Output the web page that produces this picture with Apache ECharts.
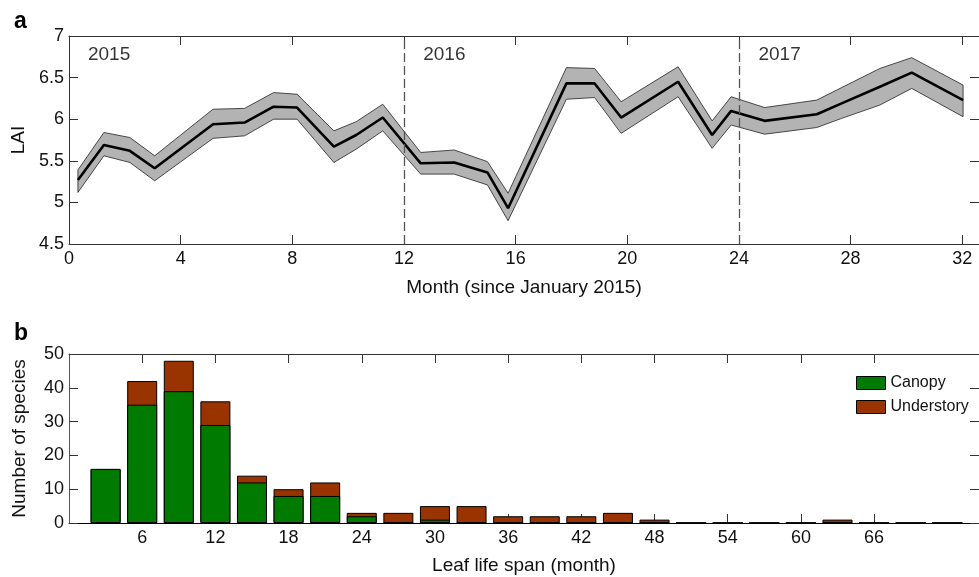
<!DOCTYPE html>
<html>
<head>
<meta charset="utf-8">
<script src="https://cdn.jsdelivr.net/npm/echarts@6/dist/echarts.min.js"></script>
<style>html,body{margin:0;padding:0;background:#fff}#c{width:979px;height:577px}</style>
</head>
<body>
<div id="c"></div>
<script>
// ---- Panel a: LAI time series ----
var months = [0.32, 1.25, 2.18, 3.07, 5.16, 6.29, 7.33, 8.17, 9.49, 10.29, 11.24, 12.6, 13.8, 14.99, 15.73, 17.82, 18.83, 19.78, 21.82, 23.04, 23.72, 24.92, 26.79, 27.68, 29.05, 30.19, 32.03];
var lai    = [5.27, 5.69, 5.62, 5.41, 5.94, 5.96, 6.15, 6.14, 5.67, 5.81, 6.02, 5.47, 5.48, 5.36, 4.93, 6.43, 6.43, 6.02, 6.45, 5.81, 6.10, 5.98, 6.06, 6.19, 6.39, 6.56, 6.23];
var laiUpper = [5.39, 5.84, 5.78, 5.56, 6.12, 6.13, 6.32, 6.30, 5.86, 5.97, 6.18, 5.60, 5.63, 5.49, 5.11, 6.62, 6.61, 6.21, 6.63, 5.98, 6.27, 6.14, 6.23, 6.38, 6.61, 6.74, 6.41];
var laiLower = [5.12, 5.56, 5.48, 5.26, 5.77, 5.80, 6.00, 6.00, 5.48, 5.64, 5.86, 5.34, 5.34, 5.21, 4.78, 6.24, 6.26, 5.83, 6.27, 5.65, 5.93, 5.82, 5.90, 6.01, 6.17, 6.37, 6.03];
var monthTicks = [0, 4, 8, 12, 16, 20, 24, 28, 32];
var yearBreaks = [12, 24];
var yearLabels = ['2015', '2016', '2017'];
var yearLabelPos = [[0.68, 6.775], [12.69, 6.775], [24.7, 6.775]];

// ---- Panel b: leaf life span histogram ----
var spanBins   = [3, 6, 9, 12, 15, 18, 21, 24, 27, 30, 33, 36, 39, 42, 45, 48, 51, 54, 57, 60, 63, 66, 69, 72];
var canopy     = [16, 35, 39, 29, 12, 8, 8, 2, 0, 1, 0, 0, 0, 0, 0, 0, 0, 0, 0, 0, 0, 0, 0, 0];
var understory = [0, 7, 9, 7, 2, 2, 4, 1, 3, 4, 5, 2, 2, 2, 3, 1, 0, 0, 0, 0, 1, 0, 0, 0];
var spanTicks  = [6, 12, 18, 24, 30, 36, 42, 48, 54, 60, 66];

var FONT = 'Liberation Sans, Arial, Helvetica, sans-serif';
var AX = '#333';
var TICKFS = 18, TITLEFS = 19;
var chart = echarts.init(document.getElementById('c'));

function xAx(grid, pos, min, max, ticks, labels, name, nameGap, lineColor) {
  return {
    type: 'value', gridIndex: grid, position: pos, min: min, max: max,
    splitLine: {show: false},
    axisLine: {show: true, onZero: false, lineStyle: {color: lineColor || AX, width: 1}},
    axisTick: {show: true, inside: true, length: 9, customValues: ticks, lineStyle: {color: AX, width: 1}},
    axisLabel: {show: labels, customValues: ticks, margin: 6, color: '#111', fontSize: TICKFS, fontFamily: FONT},
    name: name || '', nameLocation: 'middle', nameGap: nameGap || 30,
    nameTextStyle: {color: '#111', fontSize: TITLEFS, fontFamily: FONT}
  };
}
function yAx(grid, pos, min, max, interval, labels, name, color) {
  return {
    type: 'value', gridIndex: grid, position: pos, min: min, max: max, interval: interval,
    splitLine: {show: false},
    axisLine: {show: true, onZero: false, lineStyle: {color: color || AX, width: 1}},
    axisTick: {show: true, inside: true, length: 9, lineStyle: {color: AX, width: 1}},
    axisLabel: {show: labels, margin: 5, color: '#111', fontSize: TICKFS, fontFamily: FONT},
    name: name || '', nameLocation: 'middle', nameGap: 40,
    nameTextStyle: {color: '#111', fontSize: TITLEFS, fontFamily: FONT}
  };
}

var bandData = months.map(function (m, i) { return [m, laiLower[i], laiUpper[i]]; });
var totals = spanBins.map(function (b, i) { return canopy[i] + understory[i]; });

var option = {
  animation: false,
  backgroundColor: '#fff',
  title: [
    {text: 'a', left: 9, top: 5, textStyle: {fontSize: 23, fontWeight: 'bold', fontFamily: FONT, color: '#000'}},
    {text: 'b', left: 9, top: 317, textStyle: {fontSize: 23, fontWeight: 'bold', fontFamily: FONT, color: '#000'}}
  ],
  grid: [
    {left: 69, right: -2, top: 36, bottom: 333},
    {left: 69, right: -2, top: 354, bottom: 54}
  ],
  xAxis: [
    xAx(0, 'bottom', 0, 32.6, monthTicks, true, 'Month (since January 2015)', 34),
    xAx(0, 'top', 0, 32.6, monthTicks, false),
    xAx(1, 'bottom', 0, 74.6, spanTicks, true, 'Leaf life span (month)', 33, '#000'),
    xAx(1, 'top', 0, 74.6, spanTicks, false)
  ],
  yAxis: [
    yAx(0, 'left', 4.5, 7, 0.5, true, 'LAI'),
    yAx(0, 'right', 4.5, 7, 0.5, false),
    yAx(1, 'left', 0, 50, 10, true, 'Number of species', '#555'),
    yAx(1, 'right', 0, 50, 10, false)
  ],
  legend: {
    data: ['Canopy', 'Understory'], orient: 'vertical', left: 856, top: 375, padding: 0,
    itemWidth: 29, itemHeight: 13, itemGap: 8, icon: 'rect',
    textStyle: {fontSize: 16, fontFamily: FONT, color: '#111'},
    itemStyle: {borderColor: '#000', borderWidth: 1}
  },
  series: [
    {
      type: 'custom', xAxisIndex: 0, yAxisIndex: 0, data: bandData, z: 2, silent: true,
      encode: {x: 0, y: [1, 2]},
      renderItem: function (params, api) {
        if (params.dataIndex !== 0) return null;
        var pts = [];
        for (var i = 0; i < months.length; i++) pts.push(api.coord([months[i], laiUpper[i]]));
        for (var j = months.length - 1; j >= 0; j--) pts.push(api.coord([months[j], laiLower[j]]));
        return {type: 'polygon', shape: {points: pts}, style: {fill: '#b3b3b3', stroke: '#222', lineWidth: 0.8}};
      }
    },
    {
      type: 'line', xAxisIndex: 0, yAxisIndex: 0, z: 4, symbol: 'none',
      data: months.map(function (m, i) { return [m, lai[i]]; }),
      lineStyle: {color: '#000', width: 2.6},
      markLine: {
        silent: true, symbol: 'none', label: {show: false},
        lineStyle: {color: '#555', width: 1.3, type: [9, 4]},
        data: yearBreaks.map(function (v) { return {xAxis: v}; })
      }
    },
    {
      type: 'scatter', xAxisIndex: 0, yAxisIndex: 0, symbolSize: 0, z: 5, silent: true,
      data: yearLabelPos.map(function (p, i) { return [p[0], p[1], yearLabels[i]]; }),
      label: {show: true, position: 'right', distance: 0, color: '#000', fontSize: TITLEFS, fontFamily: FONT,
        formatter: function (p) { return p.value[2]; }}
    },
    {
      // stacked top part: drawn at canopy + understory height, canopy bar overlays its lower part
      name: 'Understory', type: 'bar', xAxisIndex: 2, yAxisIndex: 2, barWidth: 30, barGap: '-100%', z: 2,
      data: spanBins.map(function (b, i) { return [b, totals[i]]; }),
      itemStyle: {color: '#993300', borderColor: '#000', borderWidth: 1}
    },
    {
      name: 'Canopy', type: 'bar', xAxisIndex: 2, yAxisIndex: 2, barWidth: 30, barGap: '-100%', z: 3,
      data: spanBins.map(function (b, i) { return [b, canopy[i]]; }),
      itemStyle: {color: '#007a00', borderColor: '#000', borderWidth: 1}
    }
  ]
};
chart.setOption(option);
</script>
</body>
</html>
